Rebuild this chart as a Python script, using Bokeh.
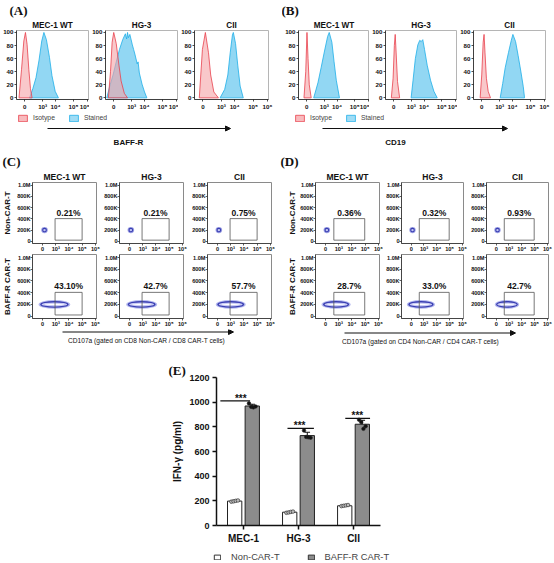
from bokeh.plotting import figure
from bokeh.layouts import row, column
from bokeh.models import (Range1d, FixedTicker, Title, Legend, LegendItem,
                          Arrow, NormalHead, Label)
from bokeh.core.properties import value
from bokeh.embed import file_html
from bokeh.resources import INLINE

# ---------------- data ----------------
CELL_LINES = ["MEC-1 WT", "HG-3", "CII"]
HIST_LEGEND = ["Isotype", "Stained"]
HIST_XTICKS = [0, 1.0, 1.72, 2.72, 3.5]
HIST_XLABELS = ["0", "10³", "10⁴", "10⁵", "10⁶"]
HIST_YTICKS = [0, 20, 40, 60, 80, 100]
A_MARKER = "BAFF-R"
B_MARKER = "CD19"

# panel A (BAFF-R) histograms, x in display units (0 .. 10^6), y = % of max
A_MEC1_ISO_X = [-0.32, -0.18, -0.05, 0.04, 0.13, 0.23, 0.32, 0.41]
A_MEC1_ISO_Y = [0, 43, 87, 100, 82, 43, 14, 0]
A_MEC1_STA_X = [0.27, 0.45, 0.63, 0.8, 0.95, 1.07, 1.21, 1.38, 1.52, 1.7, 1.88]
A_MEC1_STA_Y = [0, 14, 31, 58, 87, 100, 89, 62, 34, 10, 0]
A_HG3_ISO_X = [-0.3, -0.18, -0.09, 0.0, 0.14, 0.29, 0.41, 0.59, 0.77]
A_HG3_ISO_Y = [0, 40, 85, 100, 83, 50, 26, 7, 0]
A_HG3_STA_X = [-0.39, -0.22, -0.04, 0.14, 0.32, 0.5, 0.65, 0.72, 0.77, 0.82, 0.9,
               1.04, 1.11, 1.18, 1.31, 1.36, 1.43, 1.58, 1.72, 1.85]
A_HG3_STA_Y = [0, 18, 35, 55, 74, 89, 98, 90, 100, 92, 97, 81, 74, 67, 52, 55, 38, 21, 9, 0]
A_CII_ISO_X = [-0.2, -0.03, 0.13, 0.3, 0.42, 0.59, 0.84]
A_CII_ISO_Y = [0, 74, 100, 69, 35, 9, 0]
A_CII_STA_X = [0.93, 1.18, 1.35, 1.48, 1.6, 1.65, 1.77, 1.89, 2.02, 2.19]
A_CII_STA_Y = [0, 13, 35, 69, 96, 100, 83, 50, 18, 0]

# panel B (CD19) histograms
B_MEC1_ISO_X = [-0.15, -0.05, 0.02, 0.08, 0.15, 0.26]
B_MEC1_ISO_Y = [0, 40, 100, 60, 20, 0]
B_MEC1_STA_X = [0.4, 0.64, 0.82, 1.0, 1.19, 1.28, 1.43, 1.55, 1.68, 1.86]
B_MEC1_STA_Y = [0, 23, 46, 70, 94, 100, 85, 56, 27, 0]
B_HG3_ISO_X = [-0.13, -0.03, 0.04, 0.09, 0.14, 0.22, 0.34]
B_HG3_ISO_Y = [0, 30, 80, 97, 70, 25, 0]
B_HG3_STA_X = [0.99, 1.1, 1.23, 1.37, 1.48, 1.56, 1.65, 1.75, 1.9, 2.09, 2.28, 2.47]
B_HG3_STA_Y = [0, 27, 60, 81, 88, 86, 89, 74, 50, 27, 10, 0]
B_CII_ISO_X = [-0.09, 0.0, 0.08, 0.13, 0.18, 0.26, 0.36, 0.49]
B_CII_ISO_Y = [0, 35, 85, 97, 70, 30, 10, 0]
B_CII_STA_X = [1.03, 1.17, 1.31, 1.49, 1.65, 1.74, 1.89, 2.03, 2.18, 2.32, 2.39]
B_CII_STA_Y = [0, 22, 46, 69, 88, 97, 86, 65, 41, 17, 0]

# panels C / D : CD107a dot plots
DOT_XTICKS = [0, 1, 2, 3, 4]
DOT_XLABELS = ["0", "10³", "10⁴", "10⁵", "10⁶"]
DOT_YTICKS = [0, 200000, 400000, 600000, 800000, 1000000]
DOT_YLABELS = ["0", "200K", "400K", "600K", "800K", "1.0M"]
ROW_LABELS = ["Non-CAR-T", "BAFF-R CAR-T"]
C_PCT_NON = ["0.21%", "0.21%", "0.75%"]
C_PCT_CAR = ["43.10%", "42.7%", "57.7%"]
D_PCT_NON = ["0.36%", "0.32%", "0.93%"]
D_PCT_CAR = ["28.7%", "33.0%", "42.7%"]
C_GATE_X = [0.95, 3.0]
D_GATE_X = [0.63, 2.97]
GATE_Y = [20000, 405000]
BLOB_Y = 200000
NON_BLOB_H = 110000
CAR_BLOB_H = 150000
C_NON_BLOB_X = [0.15, 0.1, 0.1]
C_NON_BLOB_W = [0.5, 0.5, 0.5]
C_CAR_BLOB_X = [0.9, 0.92, 1.0]
C_CAR_BLOB_W = [2.4, 2.35, 2.27]
D_NON_BLOB_X = [0.1, 0.1, 0.1]
D_NON_BLOB_W = [0.5, 0.5, 0.5]
D_CAR_BLOB_X = [0.8, 0.76, 0.84]
D_CAR_BLOB_W = [2.2, 2.2, 1.9]
C_CAPTION = "CD107a (gated on CD8 Non-CAR / CD8 CAR-T cells)"
D_CAPTION = "CD107a (gated on CD4 Non-CAR / CD4 CAR-T cells)"

# panel E : IFN-gamma
E_GROUPS = ["MEC-1", "HG-3", "CII"]
E_SERIES = ["Non-CAR-T", "BAFF-R CAR-T"]
E_YTICKS = [0, 200, 400, 600, 800, 1000, 1200]
E_NON_MEAN = [198, 108, 160]
E_NON_SD = [6, 6, 5]
E_CAR_MEAN = [969, 729, 821]
E_CAR_SD = [14, 27, 32]
E_NON_PTS = [[193, 196, 200, 203], [103, 106, 110, 113], [157, 160, 163, 166]]
E_CAR_PTS = [[990, 962, 958, 965], [770, 718, 715, 712], [857, 838, 784, 805]]
E_SIG_Y = [1010, 787, 868]
E_SIG_X0 = [-0.42, -0.2, -0.15]
E_SIG_X1 = [0.12, 0.28, 0.3]
E_SIG_STAR_X = [-0.05, 0.02, 0.07]
E_SIG_TEXT = ["***", "***", "***"]
E_YLABEL = "IFN-γ (pg/ml)"

# ---------------- styling helpers ----------------
SANS = "Liberation Sans"
SERIF = "Liberation Serif"
ISO_FILL, ISO_LINE = "#f5a3a7", "#e8404c"
STA_FILL, STA_LINE = "#7fd0f1", "#1eaee8"
CAR_GRAY = "#8c8c8c"


def FS(v):
    return f"{v:.1f}px"


def mkfig(box, frame, **kw):
    x0, x1, y0, y1 = box
    fx0, fx1, fy0, fy1 = frame
    p = figure(width=x1 - x0, height=y1 - y0,
               min_border_left=fx0 - x0, min_border_right=x1 - fx1,
               min_border_top=fy0 - y0, min_border_bottom=y1 - fy1,
               toolbar_location=None, output_backend="svg", title_location=None, **kw)
    p.xgrid.visible = False
    p.ygrid.visible = False
    return p


def decor_fig(y0, y1):
    d = mkfig((0, 554, y0, y1), (0, 554, y0, y1), x_range=Range1d(0, 554),
              y_range=Range1d(y1, y0), x_axis_location=None, y_axis_location=None)
    d.outline_line_color = None
    return d


def style_axes(p, size, tick_out=2, line_w=0.8, color="#222", standoff=1):
    for ax in (p.xaxis[0], p.yaxis[0]):
        ax.axis_line_color = color
        ax.axis_line_width = line_w
        ax.major_tick_line_color = color
        ax.major_tick_line_width = line_w
        ax.major_tick_out = tick_out
        ax.major_tick_in = 0
        ax.minor_tick_line_color = None
        ax.major_label_text_font = SANS
        ax.major_label_text_font_size = FS(size)
        ax.major_label_text_font_style = "bold"
        ax.major_label_text_color = "#111"
        ax.major_label_standoff = standoff


def add_titles(p, name, name_size, panel=None, panel_off=0):
    if name:
        p.add_layout(Title(text=name, align="center", text_font=SANS,
                           text_font_size=FS(name_size), text_font_style="bold",
                           text_color="#111", standoff=1), "above")
    if panel:
        p.add_layout(Title(text=panel, align="left", offset=panel_off, text_font=SERIF,
                           text_font_size=FS(13), text_font_style="bold",
                           text_color="#111", standoff=1), "above")


def hist_fig(box, frame, name, iso_x, iso_y, sta_x, sta_y, panel=None, panel_off=0):
    p = mkfig(box, frame, x_range=Range1d(-0.46, 3.56), y_range=Range1d(-2.5, 103))
    p.outline_line_color = "#b5b5b5"
    p.patch(sta_x, sta_y, fill_color=STA_FILL, fill_alpha=0.85, line_color=STA_LINE, line_width=0.8)
    p.patch(iso_x, iso_y, fill_color=ISO_FILL, fill_alpha=0.6, line_color=ISO_LINE, line_width=0.8)
    p.xaxis.ticker = FixedTicker(ticks=HIST_XTICKS)
    p.xaxis.major_label_overrides = dict(zip(HIST_XTICKS, HIST_XLABELS))
    p.yaxis.ticker = FixedTicker(ticks=HIST_YTICKS)
    style_axes(p, 6.2)
    add_titles(p, name, 8.2, panel, panel_off)
    return p


def dot_fig(box, frame, gate_x, bx, bw, car, pct, name=None, panel=None, panel_off=0,
            row_label=None, label_standoff=2):
    p = mkfig(box, frame, x_range=Range1d(-0.76, 4.09), y_range=Range1d(-40000, 1050000))
    p.outline_line_color = "#8a8a8a"
    bh = CAR_BLOB_H if car else NON_BLOB_H
    if car:
        layers = [(1.0, 1.0, "#b4b8ef"), (0.9, 0.78, "#3a3fb2"), (0.8, 0.46, "#c9cbf5"),
                  (0.62, 0.14, "#ffffff")]
    else:
        layers = [(1.0, 1.0, "#9a9ee2"), (0.72, 0.72, "#3a3fb2"), (0.38, 0.38, "#c3c6f4")]
    for fw, fh, col in layers:
        p.ellipse(x=[bx], y=[BLOB_Y], width=[bw * fw], height=[bh * fh],
                  fill_color=col, line_color=None)
    p.quad(left=[gate_x[0]], right=[gate_x[1]], bottom=[GATE_Y[0]], top=[GATE_Y[1]],
           fill_color=None, line_color="#555", line_width=0.8)
    p.text(x=[(gate_x[0] + gate_x[1]) / 2], y=[GATE_Y[1]], text=[pct], text_align="center",
           text_baseline="bottom", text_font=value(SANS), text_font_size=FS(8.5),
           text_font_style="bold", text_color="#111", y_offset=-1)
    p.xaxis.ticker = FixedTicker(ticks=DOT_XTICKS)
    p.xaxis.major_label_overrides = dict(zip(DOT_XTICKS, DOT_XLABELS))
    p.yaxis.ticker = FixedTicker(ticks=DOT_YTICKS)
    p.yaxis.major_label_overrides = dict(zip(DOT_YTICKS, DOT_YLABELS))
    style_axes(p, 5.6, color="#333", standoff=0)
    if row_label:
        p.yaxis.axis_label = row_label
        p.yaxis.axis_label_text_font = SANS
        p.yaxis.axis_label_text_font_size = FS(8)
        p.yaxis.axis_label_text_font_style = "bold"
        p.yaxis.axis_label_text_color = "#111"
        p.yaxis.axis_label_standoff = label_standoff
    add_titles(p, name, 8.5, panel, panel_off)
    return p


# ---------------- row 1 : panels A and B ----------------
HA = (0, 112)
FA = (28, 101)
a1 = hist_fig((0, 89) + HA, (14, 88) + FA, CELL_LINES[0], A_MEC1_ISO_X, A_MEC1_ISO_Y,
              A_MEC1_STA_X, A_MEC1_STA_Y, "(A)", -7)
a2 = hist_fig((89, 178) + HA, (103, 177) + FA, CELL_LINES[1], A_HG3_ISO_X, A_HG3_ISO_Y,
              A_HG3_STA_X, A_HG3_STA_Y)
a3 = hist_fig((178, 282) + HA, (192, 268) + FA, CELL_LINES[2], A_CII_ISO_X, A_CII_ISO_Y,
              A_CII_STA_X, A_CII_STA_Y)
b1 = hist_fig((282, 369) + HA, (296, 369) + FA, CELL_LINES[0], B_MEC1_ISO_X, B_MEC1_ISO_Y,
              B_MEC1_STA_X, B_MEC1_STA_Y, "(B)", -17)
b2 = hist_fig((369, 457) + HA, (383, 456) + FA, CELL_LINES[1], B_HG3_ISO_X, B_HG3_ISO_Y,
              B_HG3_STA_X, B_HG3_STA_Y)
b3 = hist_fig((457, 554) + HA, (471, 545) + FA, CELL_LINES[2], B_CII_ISO_X, B_CII_ISO_Y,
              B_CII_STA_X, B_CII_STA_Y)

# decoration strip under A/B: legends, arrows, marker names
d1 = decor_fig(112, 150)
# legend swatch renderers (their single shape lies outside the visible range)
r_iso = d1.quad(left=[-30], right=[-20], top=[-30], bottom=[-20], fill_color=ISO_FILL,
                fill_alpha=0.75, line_color=ISO_LINE, line_width=0.8)
r_sta = d1.quad(left=[-30], right=[-20], top=[-30], bottom=[-20], fill_color=STA_FILL,
                fill_alpha=0.75, line_color=STA_LINE, line_width=0.8)
for lx in (17, 294):
    leg = Legend(items=[LegendItem(label=HIST_LEGEND[0], renderers=[r_iso]),
                        LegendItem(label=HIST_LEGEND[1], renderers=[r_sta])],
                 orientation="horizontal", location=(lx, 150 - 122),
                 glyph_width=11, glyph_height=8, label_height=9, label_width=10,
                 label_text_font=SANS, label_text_font_size=FS(6.8), label_standoff=5,
                 spacing=13, padding=0, margin=0, border_line_color=None,
                 background_fill_alpha=0)
    d1.add_layout(leg)
for xs, xe, txt, tx in ((47, 230, A_MARKER, 128), (322, 507, B_MARKER, 395)):
    d1.add_layout(Arrow(end=NormalHead(size=5, fill_color="#111", line_color="#111"),
                        x_start=xs, y_start=128, x_end=xe, y_end=128,
                        line_color="#111", line_width=1.2))
    d1.add_layout(Label(x=tx, y=141.5, text=txt, text_align="center", text_baseline="middle",
                        text_font=SANS, text_font_size=FS(8), text_font_style="bold",
                        text_color="#111"))

# ---------------- row 2 : panels C and D ----------------
HT, FT = (150, 254), (182, 246)
HB, FB = (254, 329), (254, 321)
CX = [((0, 101), (32, 96)), ((101, 189), (119, 183)), ((189, 275), (207, 271))]
DX = [((275, 383), (315, 379)), ((383, 468), (399, 463)), ((468, 554), (484, 548))]

top_figs, bot_figs = [], []
for panel, xs_, gate, pnon, pcar, nbx, nbw, cbx, cbw, plab, poff, lstd in (
        ("C", CX, C_GATE_X, C_PCT_NON, C_PCT_CAR, C_NON_BLOB_X, C_NON_BLOB_W,
         C_CAR_BLOB_X, C_CAR_BLOB_W, "(C)", -30, 2),
        ("D", DX, D_GATE_X, D_PCT_NON, D_PCT_CAR, D_NON_BLOB_X, D_NON_BLOB_W,
         D_CAR_BLOB_X, D_CAR_BLOB_W, "(D)", -35, 0)):
    for i, (bx_, fx_) in enumerate(xs_):
        first = i == 0
        top_figs.append(dot_fig(bx_ + HT, fx_ + FT, gate, nbx[i], nbw[i], False, pnon[i],
                                name=CELL_LINES[i], panel=plab if first else None,
                                panel_off=poff, row_label=ROW_LABELS[0] if first else None,
                                label_standoff=lstd))
        bot_figs.append(dot_fig(bx_ + HB, fx_ + FB, gate, cbx[i], cbw[i], True, pcar[i],
                                row_label=ROW_LABELS[1] if first else None,
                                label_standoff=lstd))

d2 = decor_fig(329, 346)
for xs, xe, ay, txt, tx, ty in ((62, 233, 331.5, C_CAPTION, 146, 339.5),
                                (344, 515, 332.5, D_CAPTION, 420, 340.5)):
    d2.add_layout(Arrow(end=NormalHead(size=5, fill_color="#111", line_color="#111"),
                        x_start=xs, y_start=ay, x_end=xe, y_end=ay,
                        line_color="#111", line_width=1.2))
    d2.add_layout(Label(x=tx, y=ty, text=txt, text_align="center", text_baseline="middle",
                        text_font=SANS, text_font_size=FS(6.6), text_color="#111"))

# ---------------- row 3 : panel E ----------------
pE = mkfig((0, 554, 346, 549), (216, 380, 377, 525), x_range=Range1d(-0.49, 2.49),
           y_range=Range1d(0, 1200))
pE.outline_line_color = None
gx = list(range(len(E_GROUPS)))
BO, BW = 0.16, 0.26
non_x = [g - BO for g in gx]
car_x = [g + BO for g in gx]
r_non = pE.vbar(x=non_x, top=E_NON_MEAN, width=BW, fill_color="white",
                line_color="#222", line_width=1)
r_car = pE.vbar(x=car_x, top=E_CAR_MEAN, width=BW, fill_color=CAR_GRAY,
                line_color="#222", line_width=1)
for xx, mm, sd in ((non_x, E_NON_MEAN, E_NON_SD), (car_x, E_CAR_MEAN, E_CAR_SD)):
    tops = [m + s for m, s in zip(mm, sd)]
    pE.segment(x0=xx, y0=mm, x1=xx, y1=tops, line_color="#111", line_width=1)
    pE.segment(x0=[x - 0.05 for x in xx], y0=tops, x1=[x + 0.05 for x in xx], y1=tops,
               line_color="#111", line_width=1)
JIT = [-0.06, -0.02, 0.02, 0.06]
for xx, pts, fc in ((non_x, E_NON_PTS, "#bbbbbb"), (car_x, E_CAR_PTS, "#111111")):
    px_, py_ = [], []
    for x0, vals in zip(xx, pts):
        for j, v in zip(JIT, vals):
            px_.append(x0 + j)
            py_.append(v)
    pE.scatter(x=px_, y=py_, marker="circle", size=3.6, fill_color=fc, line_color="#222",
               line_width=0.6)
pE.segment(x0=[g + a for g, a in zip(gx, E_SIG_X0)], y0=E_SIG_Y,
           x1=[g + b for g, b in zip(gx, E_SIG_X1)], y1=E_SIG_Y,
           line_color="#111", line_width=1.3)
pE.text(x=[g + s for g, s in zip(gx, E_SIG_STAR_X)], y=[v + 22 for v in E_SIG_Y],
        text=E_SIG_TEXT, text_align="center", text_baseline="middle",
        text_font=value(SANS), text_font_size=FS(10), text_font_style="bold",
        text_color="#111")
pE.xaxis.ticker = FixedTicker(ticks=gx)
pE.xaxis.major_label_overrides = dict(zip(gx, E_GROUPS))
pE.yaxis.ticker = FixedTicker(ticks=E_YTICKS)
style_axes(pE, 9, tick_out=4, line_w=1.5, color="#111", standoff=3)
pE.xaxis.major_label_text_font_size = FS(10)
pE.yaxis.axis_label = E_YLABEL
pE.yaxis.axis_label_text_font = SANS
pE.yaxis.axis_label_text_font_size = FS(10)
pE.yaxis.axis_label_text_font_style = "bold"
pE.yaxis.axis_label_text_color = "#111"
pE.yaxis.axis_label_standoff = 3
pE.add_layout(Title(text="(E)", align="left", offset=-48, text_font=SERIF,
                    text_font_size=FS(13), text_font_style="bold", text_color="#111",
                    standoff=0), "above")

# legend strip for panel E (swatch renderers lie outside the visible range)
d3 = decor_fig(549, 563)
e_non = d3.quad(left=[-30], right=[-20], top=[-30], bottom=[-20], fill_color="white",
                line_color="#333", line_width=1)
e_car = d3.quad(left=[-30], right=[-20], top=[-30], bottom=[-20], fill_color=CAR_GRAY,
                line_color="#333", line_width=1)
legE = Legend(items=[LegendItem(label=E_SERIES[0], renderers=[e_non]),
                     LegendItem(label=E_SERIES[1], renderers=[e_car])],
              orientation="horizontal", location=(213, 1),
              glyph_width=8, glyph_height=6, label_height=11, label_width=10,
              label_text_font=SANS, label_text_font_size=FS(9.3), label_standoff=10,
              spacing=27, padding=0, margin=0, border_line_color=None,
              background_fill_alpha=0)
d3.add_layout(legE)

layout = column(row(a1, a2, a3, b1, b2, b3), row(d1), row(*top_figs), row(*bot_figs),
                row(d2), row(pE), row(d3))
open("out.html", "w").write(file_html(layout, INLINE))
